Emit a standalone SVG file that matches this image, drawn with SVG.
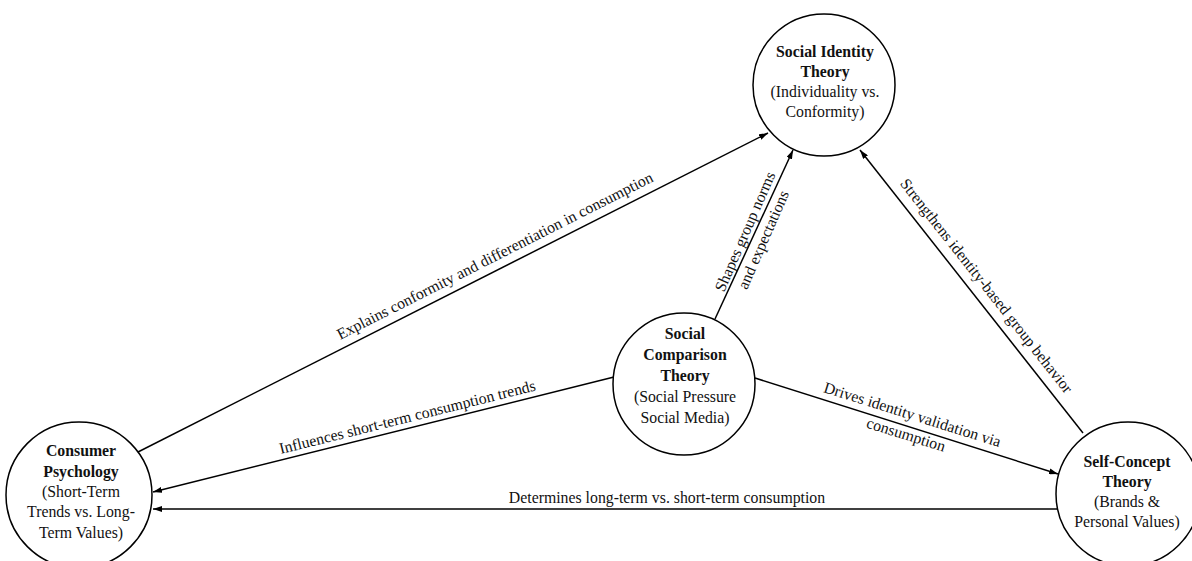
<svg xmlns="http://www.w3.org/2000/svg" width="1192" height="561" viewBox="0 0 1192 561">
<defs>
<marker id="arrow" markerWidth="9" markerHeight="6" refX="9" refY="3" orient="auto" markerUnits="userSpaceOnUse">
<path d="M0,0 L9,3 L0,6 z" fill="#000"/>
</marker>
<style>
.node circle { fill: #fff; stroke: #000; stroke-width: 1.5; }
.t { font-family: "Liberation Serif", "Times New Roman", serif; font-size: 15.8px; fill: #111; text-anchor: middle; }
.b { font-weight: bold; }
.edge line { stroke: #000; stroke-width: 1.5; marker-end: url(#arrow); }
</style>
</defs>
<rect width="1192" height="561" fill="#fff"/>
<g id="connectors" class="edge">
<line x1="138" y1="452" x2="768" y2="133"/>
<line x1="715" y1="319" x2="793" y2="150"/>
<line x1="614" y1="377" x2="153" y2="492"/>
<line x1="755" y1="378" x2="1058" y2="474"/>
<line x1="1083" y1="433" x2="860" y2="150"/>
<line x1="1057" y1="509" x2="153" y2="509"/>
<text class="t" transform="translate(501,268) rotate(-26.85)" y="-8.5">Explains conformity and differentiation in consumption</text>
<g transform="translate(755.3,236.1) rotate(-66.39)">
<text class="t" y="-6">Shapes group norms</text>
<text class="t" y="14">and expectations</text>
</g>
<text class="t" transform="translate(410,428) rotate(-14)" y="-6">Influences short-term consumption trends</text>
<g transform="translate(908.7,426.2) rotate(17.41)">
<text class="t" y="-7">Drives identity validation via</text>
<text class="t" y="14">consumption</text>
</g>
<text class="t" transform="translate(974.5,295.3) rotate(51.77)" y="-10">Strengthens identity-based group behavior</text>
<text class="t" x="667" y="503">Determines long-term vs. short-term consumption</text>
</g>
<g id="social-identity" class="node">
<circle cx="824" cy="85" r="71"/>
<text class="t b" x="825" y="57">Social Identity</text>
<text class="t b" x="825" y="77">Theory</text>
<text class="t" x="825" y="97">(Individuality vs.</text>
<text class="t" x="825" y="117">Conformity)</text>
</g>
<g id="social-comparison" class="node">
<circle cx="684" cy="384" r="71"/>
<text class="t b" x="685" y="339">Social</text>
<text class="t b" x="685" y="360">Comparison</text>
<text class="t b" x="685" y="381">Theory</text>
<text class="t" x="685" y="402">(Social Pressure</text>
<text class="t" x="685" y="423">Social Media)</text>
</g>
<g id="consumer-psychology" class="node">
<circle cx="79" cy="495" r="73"/>
<text class="t b" x="81" y="456">Consumer</text>
<text class="t b" x="81" y="476.5">Psychology</text>
<text class="t" x="81" y="497">(Short-Term</text>
<text class="t" x="81" y="517">Trends vs. Long-</text>
<text class="t" x="81" y="537.5">Term Values)</text>
</g>
<g id="self-concept" class="node">
<circle cx="1128" cy="494" r="72"/>
<text class="t b" x="1127" y="467">Self-Concept</text>
<text class="t b" x="1127" y="487">Theory</text>
<text class="t" x="1127" y="507">(Brands &amp;</text>
<text class="t" x="1127" y="527">Personal Values)</text>
</g>
</svg>
